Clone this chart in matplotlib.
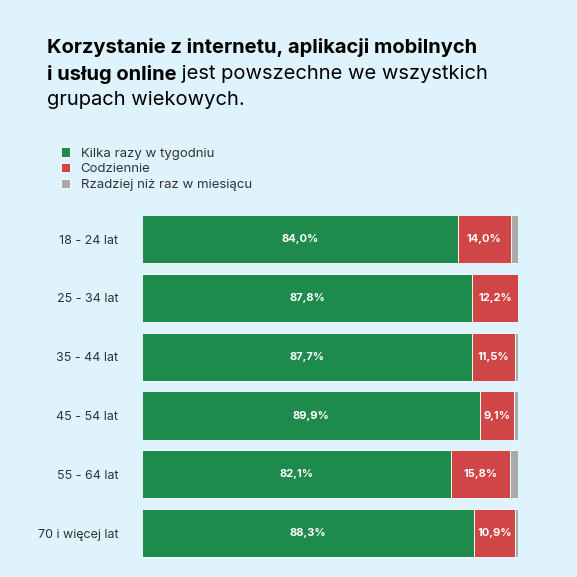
import matplotlib.pyplot as plt

groups = ['18 - 24 lat', '25 - 34 lat', '35 - 44 lat', '45 - 54 lat', '55 - 64 lat', '70 i więcej lat']
kilka = [84.0, 87.8, 87.7, 89.9, 82.1, 88.3]
codziennie = [14.0, 12.2, 11.5, 9.1, 15.8, 10.9]
rzadziej = [2.0, 0.0, 0.8, 1.0, 2.1, 0.8]
series_names = ['Kilka razy w tygodniu', 'Codziennie', 'Rzadziej niż raz w miesiącu']

bg = '#DFF3FD'
colors = ['#1E8A4C', '#D04545', '#A9A9A9']
plt.rcParams['font.family'] = ['Inter', 'DejaVu Sans']

fig = plt.figure(figsize=(5.77, 5.77), dpi=100, facecolor=bg)
ax = fig.add_axes([0.246, 0.0253, 0.652, 0.611])
ax.set_facecolor(bg)

y = list(range(len(groups)))
b1 = ax.barh(y, kilka, height=0.82, color=colors[0], edgecolor='white', linewidth=0.6)
b2 = ax.barh(y, codziennie, left=kilka, height=0.82, color=colors[1], edgecolor='white', linewidth=0.6)
lefts = [a + b for a, b in zip(kilka, codziennie)]
b3 = ax.barh(y, rzadziej, left=lefts, height=0.82, color=colors[2], edgecolor='white', linewidth=0.6)

for i in y:
    ax.text(kilka[i] / 2, i, f'{kilka[i]:.1f}%'.replace('.', ','), color='white',
            ha='center', va='center', fontsize=8, fontweight='bold')
    ax.text(kilka[i] + codziennie[i] / 2, i, f'{codziennie[i]:.1f}%'.replace('.', ','), color='white',
            ha='center', va='center', fontsize=8, fontweight='bold')

ax.set_xlim(0, 100)
ax.set_ylim(len(groups) - 0.5, -0.5)
ax.set_yticks(y)
ax.set_yticklabels(groups, fontsize=9, color='#333333')
ax.tick_params(axis='y', length=0, pad=17)
ax.set_xticks([])
for s in ax.spines.values():
    s.set_visible(False)

ax.legend([b1, b2, b3], series_names, loc='upper left', bbox_to_anchor=(0.085, 0.765),
          bbox_transform=fig.transFigure, frameon=False, fontsize=9.5, handlelength=0.7,
          handleheight=0.7, handletextpad=0.8, labelspacing=0.25, labelcolor='#333333')

# title
fig.text(0.081, 0.917, 'Korzystanie z internetu, aplikacji mobilnych', fontsize=14.5,
         fontweight='bold', color='black', va='center')
t = fig.text(0.081, 0.871, 'i usług online', fontsize=14.5, fontweight='bold', color='black', va='center')
fig.canvas.draw()
w = t.get_window_extent().width / fig.bbox.width
fig.text(0.081 + w, 0.871, ' jest powszechne we wszystkich', fontsize=14.5, color='black', va='center')
fig.text(0.081, 0.826, 'grupach wiekowych.', fontsize=14.5, color='black', va='center')

fig.savefig('out.png', dpi=100, facecolor=bg)
